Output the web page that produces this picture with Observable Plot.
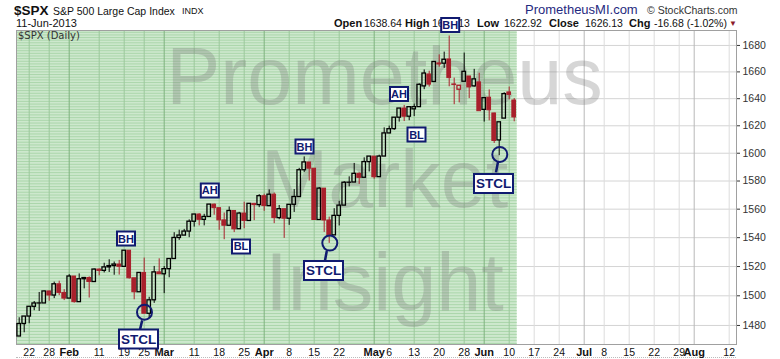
<!DOCTYPE html>
<html><head><meta charset="utf-8">
<script src="https://cdn.jsdelivr.net/npm/d3@7"></script>
<script src="https://cdn.jsdelivr.net/npm/@observablehq/plot@0.6"></script>
<style>
body{margin:0;background:#fff;}
#wrap{position:relative;width:780px;height:359px;font-family:"Liberation Sans",Arial,sans-serif;overflow:hidden;}
.h{position:absolute;white-space:nowrap;line-height:1;color:#111;}
.b{font-weight:bold;}
#chart{position:absolute;left:0;top:0;}
</style></head><body>
<div id="wrap">
  <div class="h b" style="left:14px;top:3.6px;font-size:13.5px;">$SPX</div>
  <div class="h" style="left:53px;top:5.9px;font-size:10.5px;">S&amp;P 500 Large Cap Index</div>
  <div class="h" style="left:182px;top:7.4px;font-size:9px;">INDX</div>
  <div class="h" style="left:16px;top:18px;font-size:11px;">11-Jun-2013</div>
  <div class="h b" style="left:334px;top:18px;font-size:11px;">Open</div>
  <div class="h" style="left:364px;top:18.3px;font-size:10.5px;">1638.64</div>
  <div class="h b" style="left:405px;top:18px;font-size:11px;">High</div>
  <div class="h" style="left:432px;top:18.3px;font-size:10.5px;">1640.13</div>
  <div class="h b" style="left:477px;top:18px;font-size:11px;">Low</div>
  <div class="h" style="left:504px;top:18.3px;font-size:10.5px;">1622.92</div>
  <div class="h b" style="left:549px;top:18px;font-size:11px;">Close</div>
  <div class="h" style="left:585px;top:18.3px;font-size:10.5px;">1626.13</div>
  <div class="h b" style="left:629px;top:18px;font-size:11px;">Chg</div>
  <div class="h" style="left:654px;top:18.3px;font-size:10.5px;">-16.68 (-1.02%)</div>
  <div class="h" style="left:729px;top:20px;font-size:8px;color:#8b1a2b;">▼</div>
  <div class="h" style="left:525px;top:3px;font-size:13px;color:#1f2a80;">PrometheusMI.com</div>
  <div class="h" style="left:647px;top:5px;font-size:10.5px;color:#333;">© StockCharts.com</div>
  <div style="position:absolute;left:16px;top:357px;width:720px;border-top:1px dotted #bbb;"></div>
  <div id="chart"></div>
  <div class="h" style="left:18px;top:31px;font-size:10px;color:#333;font-family:'DejaVu Sans',sans-serif;">$SPX (Daily)</div>
</div>
<script>
// ---- data: trading days from Jan 17 2013 (index -2) to Jun 11 2013 (index 97)
const firstIndex = -2;
const prevClose0 = 1472.34;
const dates = ["Jan17","Jan18","Jan22","Jan23","Jan24","Jan25","Jan28","Jan29","Jan30","Jan31","Feb1","Feb4","Feb5","Feb6","Feb7","Feb8","Feb11","Feb12","Feb13","Feb14","Feb15","Feb19","Feb20","Feb21","Feb22","Feb25","Feb26","Feb27","Feb28","Mar1","Mar4","Mar5","Mar6","Mar7","Mar8","Mar11","Mar12","Mar13","Mar14","Mar15","Mar18","Mar19","Mar20","Mar21","Mar22","Mar25","Mar26","Mar27","Mar28","Apr1","Apr2","Apr3","Apr4","Apr5","Apr8","Apr9","Apr10","Apr11","Apr12","Apr15","Apr16","Apr17","Apr18","Apr19","Apr22","Apr23","Apr24","Apr25","Apr26","Apr29","Apr30","May1","May2","May3","May6","May7","May8","May9","May10","May13","May14","May15","May16","May17","May20","May21","May22","May23","May24","May28","May29","May30","May31","Jun3","Jun4","Jun5","Jun6","Jun7","Jun10","Jun11"];
const opens = [1472.63,1480.95,1485.98,1492.56,1494.81,1494.82,1502.96,1500.18,1507.84,1501.96,1498.11,1513.17,1495.71,1511.29,1512.12,1509.39,1517.93,1517.01,1519.43,1520.33,1521.38,1519.79,1530.94,1511.95,1502.42,1515.60,1487.85,1496.94,1515.99,1514.68,1518.20,1525.20,1539.79,1541.46,1544.26,1551.15,1556.22,1552.48,1554.52,1563.21,1560.70,1552.10,1548.34,1558.71,1545.90,1556.89,1551.69,1563.75,1562.86,1569.18,1562.17,1570.25,1553.69,1559.98,1553.26,1563.11,1568.61,1587.73,1593.30,1588.84,1552.36,1574.57,1552.03,1541.61,1555.25,1562.50,1578.78,1578.93,1585.16,1582.34,1593.58,1597.55,1582.77,1597.60,1614.40,1617.55,1625.95,1632.69,1626.69,1632.10,1633.75,1649.13,1658.07,1652.45,1665.71,1666.20,1669.39,1650.34,1646.67,1652.63,1656.57,1649.14,1652.13,1631.71,1640.73,1629.05,1609.29,1625.27,1644.67,1638.64];
const highs = [1485.16,1485.98,1492.56,1496.13,1502.27,1503.26,1503.23,1509.35,1509.94,1504.19,1514.41,1513.17,1514.96,1512.53,1512.90,1518.31,1518.31,1522.29,1524.69,1523.14,1524.24,1530.94,1530.94,1511.95,1515.64,1525.84,1498.99,1520.08,1525.34,1519.99,1525.27,1543.47,1545.25,1545.78,1552.48,1556.27,1556.77,1556.39,1563.32,1563.62,1560.70,1557.25,1561.56,1558.71,1557.74,1564.91,1563.95,1564.07,1570.28,1570.57,1573.66,1571.47,1562.60,1559.98,1563.07,1573.89,1589.07,1597.35,1593.30,1588.84,1575.35,1574.57,1554.38,1560.33,1565.55,1579.58,1583.00,1592.64,1585.78,1596.65,1597.57,1597.55,1598.60,1618.46,1619.77,1626.03,1632.78,1635.01,1633.70,1636.00,1651.10,1661.49,1660.51,1667.47,1672.84,1674.93,1687.18,1655.35,1649.78,1674.21,1656.57,1661.91,1658.99,1640.42,1646.53,1629.31,1622.56,1644.40,1648.69,1640.13];
const lows = [1472.63,1475.11,1481.16,1489.90,1489.46,1494.82,1496.33,1498.09,1500.11,1496.76,1498.11,1495.02,1495.71,1504.71,1498.49,1509.39,1513.61,1515.61,1515.93,1514.02,1514.14,1519.79,1511.41,1497.29,1502.42,1487.85,1485.01,1494.88,1514.46,1501.48,1512.29,1525.20,1538.11,1541.46,1539.97,1547.36,1548.24,1548.25,1554.52,1555.74,1545.13,1538.57,1548.34,1543.55,1545.90,1546.22,1551.69,1551.90,1561.08,1558.47,1562.17,1549.80,1552.52,1539.50,1548.63,1557.69,1568.61,1586.17,1579.97,1552.28,1552.36,1543.69,1536.03,1541.61,1548.19,1562.50,1575.80,1578.93,1577.56,1582.34,1586.50,1581.28,1582.77,1597.60,1614.21,1616.64,1622.70,1623.09,1623.71,1626.74,1633.75,1646.68,1648.60,1652.45,1663.52,1662.67,1648.86,1635.53,1636.88,1652.63,1640.05,1648.61,1630.74,1622.72,1623.62,1607.09,1598.23,1625.27,1639.26,1622.92];
const closes = [1480.94,1485.98,1492.56,1494.81,1494.82,1502.96,1500.18,1507.84,1501.96,1498.11,1513.17,1495.71,1511.29,1512.12,1509.39,1517.93,1517.01,1519.43,1520.33,1521.38,1519.79,1530.94,1511.95,1502.42,1515.60,1487.85,1496.94,1515.99,1514.68,1518.20,1525.20,1539.79,1541.46,1544.26,1551.18,1556.22,1552.48,1554.52,1563.23,1560.70,1552.10,1548.34,1558.71,1545.80,1556.89,1551.69,1563.77,1562.85,1569.19,1562.17,1570.25,1553.69,1559.98,1553.28,1563.07,1568.61,1587.73,1593.37,1588.85,1552.36,1574.57,1552.01,1541.61,1555.25,1562.50,1578.78,1578.79,1585.16,1582.24,1593.61,1597.57,1582.70,1597.59,1614.42,1617.50,1625.96,1632.69,1626.67,1633.70,1633.77,1650.34,1658.78,1650.47,1667.47,1666.29,1669.16,1655.35,1650.51,1649.60,1660.06,1648.36,1654.41,1630.74,1640.42,1631.38,1608.90,1622.56,1643.38,1642.81,1626.13];

// x-axis ticks (trading-day index) and labels
const tickIdx = [0,4,8,14,19,23,27,33,38,43,47,52,57,62,69,72,77,82,87,91,96,101,106,111,115,120,125,130,133,140];
const tickLabels = ["22","28","Feb","11","19","25","Mar","11","18","25","Apr","8","15","22","May","6","13","20","28","Jun","10","17","24","Jul","8","15","22","29","Aug","12"];
const monthLabels = ["Feb","Mar","Apr","May","Jun","Jul","Aug"];
const yTicks = [1480,1500,1520,1540,1560,1580,1600,1620,1640,1660,1680];

// annotations (trading-day index, price)
const tagText = ["BH","AH","BL","BH","AH","BL","BH"];
const tagIdx  = [19.36,36.12,42.36,55.06,73.96,77.46,84.2];
const tagVal  = [1539.4,1573.3,1533.9,1604.9,1643.5,1613.6,1695.7];
const stclIdx = [21.86,58.86,92.86];
const stclVal = [1471.0,1517.3,1578.3];
const circIdx = [23.06,60.12,94.12];
const circVal = [1488.9,1536.2,1599.1];
const leadIdx1 = [22.6,59.52,93.76], leadVal1 = [1483.4,1530.8,1593.7];
const leadIdx2 = [22.12,59.16,93.36], leadVal2 = [1476.7,1524.2,1586.2];

const watermark = ["Prometheus","Market","Insight"];

// ---- build
const RED = "#a8202c", BLK = "#000", NAVY = "#101a70";
const candles = opens.map((o,k)=>{
  const c = closes[k], p = k ? closes[k-1] : prevClose0;
  return {i: firstIndex+k, date: dates[k], o, h: highs[k], l: lows[k], c,
    col: c >= p ? BLK : RED, hollow: c >= o, top: Math.max(o,c), bot: Math.min(o,c)};
});
const lastIdx = firstIndex + closes.length - 1;
const xDomain = [-2.54, 141.46];
const greenEnd = lastIdx + 0.6;
const ticks = tickIdx.map((i,k)=>({i, label: tickLabels[k], month: monthLabels.includes(tickLabels[k])}));
const stripes = d3.range(1468, 1692, 2);
const tags = tagText.map((t,k)=>({t, i: tagIdx[k], v: tagVal[k]}));
const stcl = stclIdx.map((i,k)=>({t:"STCL", i, v: stclVal[k]}));
const circles = circIdx.map((i,k)=>({i, v: circVal[k]}));
const leaders = leadIdx1.map((i,k)=>({i1: i, v1: leadVal1[k], i2: leadIdx2[k], v2: leadVal2[k]}));
const boxSym = (w,h)=>({draw(ctx){ctx.moveTo(-w/2,-h/2);ctx.lineTo(w/2,-h/2);ctx.lineTo(w/2,h/2);ctx.lineTo(-w/2,h/2);ctx.closePath();}});
const wmOffsets = [48, 151, 254];

const chart = Plot.plot({
  width: 780, height: 359,
  marginLeft: 16, marginRight: 44, marginTop: 30, marginBottom: 15,
  style: {background: "transparent", overflow: "visible", fontFamily: "'Liberation Sans', Arial, sans-serif"},
  x: {type: "linear", domain: xDomain, axis: null},
  y: {type: "log", domain: [1467.3, 1691.4], label: null},
  marks: [
    Plot.ruleY(yTicks, {stroke: "#d4d4d4"}),
    Plot.ruleX(ticks.filter(d=>d.i > greenEnd), {x: "i", stroke: d=>d.month ? "#b8b8b8" : "#dcdcdc"}),
    Plot.rect([{x1: xDomain[0], x2: greenEnd}], {x1: "x1", x2: "x2", fill: "#cde8cd"}),
    Plot.ruleY(stripes, {x1: xDomain[0], x2: greenEnd, stroke: "#abd6ab"}),
    Plot.ruleX(ticks.filter(d=>d.i <= greenEnd), {x: "i", stroke: d=>d.month ? "#7fb27f" : "#9cc99c"}),
    ...watermark.map((w,k)=>Plot.text([w], {text: d=>d, frameAnchor: "top", lineAnchor: "middle", dx: 8,
      dy: wmOffsets[k], fontSize: 81, fill: "#777", fillOpacity: 0.3})),
    Plot.frame({stroke: "#a0a0a0"}),
    Plot.ruleX(candles, {x: "i", y1: "top", y2: "h", stroke: "col"}),
    Plot.ruleX(candles, {x: "i", y1: "l", y2: "bot", stroke: "col"}),
    Plot.rect(candles.filter(d=>d.hollow), {x1: d=>d.i-0.35, x2: d=>d.i+0.35, y1: "bot", y2: "top", fill: "none", stroke: "col", strokeWidth: 1.3}),
    Plot.rect(candles.filter(d=>!d.hollow), {x1: d=>d.i-0.37, x2: d=>d.i+0.37, y1: "bot", y2: "top", fill: "col", stroke: "col", strokeWidth: 1}),
    Plot.axisY({anchor: "right", ticks: yTicks, tickFormat: d=>String(d), tickSize: 3, tickPadding: 3, fontSize: 10.5, color: "#333", label: null}),
    Plot.text(ticks.filter(d=>!d.month), {x: "i", text: "label", frameAnchor: "bottom", lineAnchor: "middle", dy: 8, fontSize: 10.5, fill: "#111"}),
    Plot.text(ticks.filter(d=>d.month), {x: "i", text: "label", frameAnchor: "bottom", lineAnchor: "middle", dy: 8, fontSize: 11, fontWeight: "bold", fill: "#111"}),
    Plot.link(leaders, {x1: "i1", y1: "v1", x2: "i2", y2: "v2", stroke: NAVY, strokeWidth: 2.5}),
    Plot.dot(circles, {x: "i", y: "v", r: 7.5, stroke: NAVY, strokeWidth: 2, fill: "none"}),
    Plot.dot(tags, {x: "i", y: "v", symbol: boxSym(18, 14), fill: "#fff", stroke: NAVY, strokeWidth: 2}),
    Plot.text(tags, {x: "i", y: "v", text: "t", fill: NAVY, fontWeight: "bold", fontSize: 11, dy: 0.5}),
    Plot.dot(stcl, {x: "i", y: "v", symbol: boxSym(39, 19), fill: "#fff", stroke: NAVY, strokeWidth: 2}),
    Plot.text(stcl, {x: "i", y: "v", text: "t", fill: NAVY, fontWeight: "bold", fontSize: 13.5, dy: 0.5})
  ]
});
document.getElementById("chart").appendChild(chart);
</script>
</body></html>
